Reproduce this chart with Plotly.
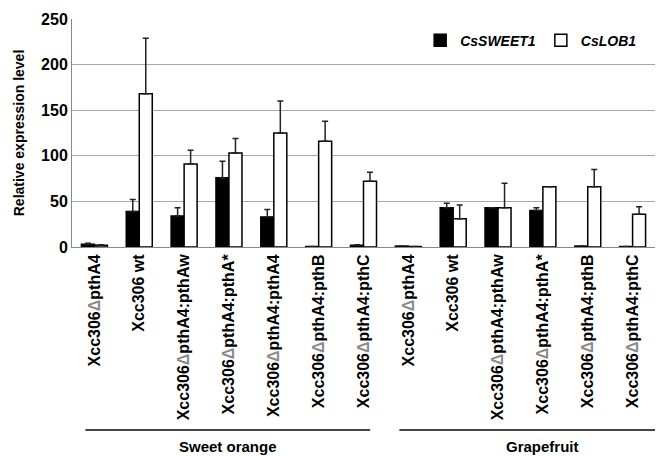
import plotly.graph_objects as go

D = '<span style="color:#8a8a8a">Δ</span>'
categories = [
    "Xcc306ΔpthA4", "Xcc306 wt", "Xcc306ΔpthA4:pthAw", "Xcc306ΔpthA4:pthA*",
    "Xcc306ΔpthA4:pthA4", "Xcc306ΔpthA4:pthB", "Xcc306ΔpthA4:pthC",
    "Xcc306ΔpthA4", "Xcc306 wt", "Xcc306ΔpthA4:pthAw", "Xcc306ΔpthA4:pthA*",
    "Xcc306ΔpthA4:pthB", "Xcc306ΔpthA4:pthC",
]
sweet1 = [3, 39, 34, 76, 33, 0.5, 2, 1, 43, 43, 40, 1, 0.5]
sweet1_err = [1, 13, 9, 18, 8, 0, 0.5, 0, 5, 0, 3, 0, 0]
lob1 = [2, 168, 91, 103, 125, 116, 72, 0.5, 31, 43, 66, 66, 36]
lob1_err = [0.5, 61, 15, 16, 35, 22, 10, 0, 15, 27, 0, 19, 8]
groups = ["Sweet orange", "Grapefruit"]
group_spans = [(-0.2, 6.15), (6.8, 12.5)]
group_centers = [2.97, 10.0]
yticks = [0, 50, 100, 150, 200, 250]

x = list(range(len(categories)))
ticktext = ["<b>" + c.replace("Δ", D) + "</b>" for c in categories]

fig = go.Figure()
fig.add_trace(go.Bar(
    x=x, y=sweet1, name="<b><i>CsSWEET1</i></b>",
    marker=dict(color="black", line=dict(color="black", width=1.5)),
    error_y=dict(type="data", array=sweet1_err, arrayminus=[0] * len(x),
                 symmetric=False, color="#222", thickness=1.5, width=3),
))
fig.add_trace(go.Bar(
    x=x, y=lob1, name="<b><i>CsLOB1</i></b>",
    marker=dict(color="white", line=dict(color="black", width=1.5)),
    error_y=dict(type="data", array=lob1_err, arrayminus=[0] * len(x),
                 symmetric=False, color="#222", thickness=1.5, width=3),
))

font = "Liberation Sans, Arial, sans-serif"
fig.update_layout(
    width=658, height=456,
    margin=dict(l=72, r=3, t=19, b=209),
    paper_bgcolor="white", plot_bgcolor="white",
    barmode="group", bargap=0.42, bargroupgap=0,
    font=dict(family=font, color="black"),
    legend=dict(orientation="h", x=0.978, y=0.905, xanchor="right", yanchor="middle",
                font=dict(size=14, family=font), bgcolor="rgba(0,0,0,0)",
                itemwidth=30),
    xaxis=dict(range=[-0.5, len(x) - 0.5], tickmode="array", tickvals=x,
               ticktext=ticktext, tickangle=-90, tickfont=dict(size=16, family=font),
               showgrid=False, showline=True, linecolor="#888", linewidth=1,
               ticks="", zeroline=False),
    yaxis=dict(range=[0, 250], tickvals=yticks,
               ticktext=["<b>%d</b>" % v for v in yticks],
               tickfont=dict(size=16, family=font),
               showgrid=True, gridcolor="#a8a8a8", gridwidth=1,
               showline=True, linecolor="#888", linewidth=1, zeroline=False,
               title=dict(text="<b>Relative expression level</b>",
                          font=dict(size=14, family=font), standoff=13)),
)

for (x0, x1), xc, g in zip(group_spans, group_centers, groups):
    fig.add_shape(type="line", xref="x", yref="paper", x0=x0, x1=x1,
                  y0=-0.803, y1=-0.803, line=dict(color="#444", width=2))
    fig.add_annotation(xref="x", yref="paper", x=xc, y=-0.877,
                       text="<b>%s</b>" % g, showarrow=False,
                       font=dict(size=15, family=font), yanchor="middle")

fig.write_html("out.html", config={"displayModeBar": False})
with open("out.html", encoding="utf-8") as f:
    html = f.read()
html = html.replace("<head>", "<head><style>body{margin:0;}</style>", 1)
with open("out.html", "w", encoding="utf-8") as f:
    f.write(html)
